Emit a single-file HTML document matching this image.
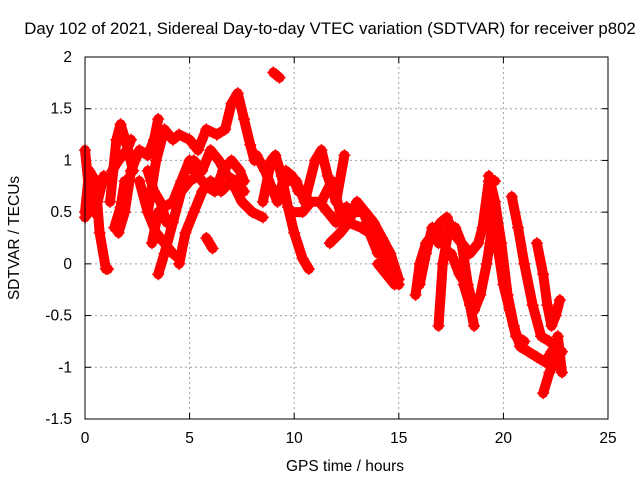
<!DOCTYPE html>
<html><head><meta charset="utf-8"><style>
body{margin:0;background:#fff;}
svg{display:block;font-family:"Liberation Sans",sans-serif;font-size:15.5px;}
</style></head><body>
<svg id="chart" width="640" height="480">
<text x="330" y="34" text-anchor="middle" style="font-size:16.8px">Day 102 of 2021, Sidereal Day-to-day VTEC variation (SDTVAR) for receiver p802</text>
<text x="345" y="471" text-anchor="middle">GPS time / hours</text>
<text transform="translate(19,238) rotate(-90)" text-anchor="middle">SDTVAR / TECUs</text>
<g id="grid"></g><g id="ticks"></g><g id="data"></g>
<rect x="85" y="57" width="523" height="362" fill="none" stroke="#000" stroke-width="1"/>
</svg>
<script>
const xTicks=[0,5,10,15,20,25];
const yTicks=[-1.5,-1,-0.5,0,0.5,1,1.5,2];
const yTickLabels=["-1.5","-1","-0.5","0","0.5","1","1.5","2"];
const tracks=[
[[0,0.5],[0.2,0.9],[0.5,0.8],[0.7,0.3],[1.0,-0.05],[1.1,-0.05]],
[[0,0.45],[0.3,0.55],[0.6,0.6],[0.9,0.85]],
[[0,1.1],[0.2,0.7],[0.4,0.5]],
[[1.2,0.6],[1.5,1.2],[1.7,1.35],[2.0,1.15],[2.3,0.9]],
[[1.3,0.9],[1.6,1.0],[2.0,1.1],[2.2,1.2]],
[[1.6,0.3],[1.9,0.5],[2.2,0.9],[2.6,1.1],[3.0,1.05],[3.3,1.2],[3.5,1.4]],
[[1.4,0.35],[1.7,0.55],[1.9,0.8]],
[[2.6,0.8],[3.0,0.5],[3.4,0.3],[3.8,0.2],[4.2,0.1],[4.5,0.05]],
[[3.0,0.5],[3.4,1.0],[3.8,1.3],[4.2,1.2],[4.5,1.25],[5.0,1.2],[5.4,1.1],[5.8,1.3],[6.3,1.25],[6.7,1.3],[7.0,1.55],[7.3,1.65],[7.6,1.4],[7.9,1.15],[8.1,1.0]],
[[3.0,0.9],[3.3,0.7],[3.6,0.6],[3.9,0.4]],
[[3.5,-0.1],[3.8,0.1],[4.2,0.4],[4.6,0.7],[5.0,0.8],[5.4,0.85],[5.8,0.75],[6.2,0.7],[6.6,0.9],[7.0,1.0],[7.4,0.9],[7.6,0.8]],
[[3.2,0.2],[3.5,0.5],[3.8,0.55],[4.2,0.6],[4.6,0.8],[5.0,1.0],[5.2,0.9]],
[[4.5,0.0],[4.8,0.3],[5.2,0.5],[5.6,0.7],[6.0,0.8],[6.5,0.7],[7.0,0.8],[7.5,0.6],[8.0,0.5],[8.5,0.45]],
[[5.2,1.0],[5.6,0.9],[6.0,1.1],[6.4,1.0],[6.8,0.85],[7.2,0.8],[7.6,0.7]],
[[5.8,0.25],[6.1,0.15]],
[[9.0,1.85],[9.3,1.8]],
[[8.2,1.05],[8.6,0.9],[8.9,0.75],[9.2,0.6],[9.6,0.9],[9.9,0.85],[10.2,0.7]],
[[8.5,0.6],[8.9,1.0],[9.1,1.05],[9.4,0.85],[9.7,0.55],[10.0,0.3],[10.4,0.05],[10.7,-0.05]],
[[9.7,0.8],[10.1,0.8],[10.5,0.6],[11.0,1.0],[11.3,1.1],[11.6,0.85],[12.0,0.6],[12.4,1.05]],
[[9.9,0.5],[10.4,0.5],[10.8,0.6],[11.2,0.6],[11.6,0.5],[12.0,0.4],[12.5,0.55],[12.9,0.5],[13.3,0.5],[13.7,0.3],[14.2,0.1],[14.6,-0.05],[15.0,-0.2]],
[[11.3,0.6],[11.8,0.8],[12.2,0.5],[12.6,0.4],[13.0,0.6],[13.4,0.5],[13.8,0.4],[14.2,0.25],[14.6,0.1],[15.0,-0.15]],
[[11.7,0.2],[12.2,0.3],[12.6,0.4],[13.2,0.35],[13.6,0.3],[14.0,0.1]],
[[14.0,0.0],[14.4,-0.1],[14.8,-0.2]],
[[15.8,-0.3],[16.0,0.0],[16.3,0.2],[16.5,0.25],[16.7,0.3],[17.0,0.4],[17.3,0.45],[17.6,0.3],[18.0,0.2],[18.4,0.1],[18.8,0.2],[19.0,0.35],[19.3,0.8],[19.6,0.8]],
[[16.0,-0.2],[16.3,0.1],[16.6,0.35],[16.9,0.2],[17.2,0.3]],
[[16.9,-0.6],[17.1,0.0],[17.4,0.35],[17.7,0.35],[18.0,0.2],[18.3,-0.2],[18.6,-0.45],[18.9,-0.3],[19.2,0.0],[19.5,0.4]],
[[18.1,-0.2],[18.4,-0.4],[18.6,-0.6]],
[[17.5,0.1],[17.9,-0.1],[18.2,-0.2]],
[[19.3,0.85],[19.6,0.6],[19.9,0.2],[20.2,-0.3],[20.5,-0.6],[20.8,-0.8],[21.2,-0.85],[21.6,-0.9],[22.0,-0.95],[22.3,-0.85]],
[[19.4,0.6],[19.7,0.2],[20.0,-0.2],[20.3,-0.45],[20.6,-0.7],[21.0,-0.75]],
[[20.4,0.65],[20.7,0.35],[21.0,0.0],[21.4,-0.4],[21.8,-0.7],[22.2,-0.75],[22.5,-0.8],[22.8,-0.85]],
[[21.6,0.2],[21.9,-0.1],[22.1,-0.4],[22.3,-0.6],[22.5,-0.5],[22.7,-0.35]],
[[22.6,-0.7],[22.8,-1.05],[22.5,-0.9],[22.2,-1.05],[21.9,-1.25]]
];
const NS="http://www.w3.org/2000/svg";
const X0=85,X1=608,Y0=419,Y1=57;
function xs(t){return X0+(t-0)/(25-0)*(X1-X0);}
function ys(v){return Y0-(v-(-1.5))/(2-(-1.5))*(Y0-Y1);}
function mk(tag,a,p){const e=document.createElementNS(NS,tag);for(const k in a)e.setAttribute(k,a[k]);p.appendChild(e);return e;}
const grid=document.getElementById('grid'),tk=document.getElementById('ticks'),dg=document.getElementById('data');
xTicks.forEach((t,i)=>{
 const x=xs(t);
 if(i>0&&i<xTicks.length-1){const g=mk('line',{x1:x,x2:x,y1:Y1,y2:Y0,stroke:'#a0a0a0','stroke-dasharray':'2,3'},grid);
 
 }
 mk('line',{x1:x,x2:x,y1:Y0,y2:Y0-6,stroke:'#000'},tk);
 mk('line',{x1:x,x2:x,y1:Y1,y2:Y1+6,stroke:'#000'},tk);
 const l=mk('text',{x:x,y:Y0+24,'text-anchor':'middle'},tk);l.textContent=String(t);
 
 
});
yTicks.forEach((v,i)=>{
 const y=ys(v);
 if(i>0&&i<yTicks.length-1){const g=mk('line',{x1:X0,x2:X1,y1:y,y2:y,stroke:'#a0a0a0','stroke-dasharray':'2,3'},grid);
 
 }
 mk('line',{x1:X0,x2:X0+6,y1:y,y2:y,stroke:'#000'},tk);
 mk('line',{x1:X1,x2:X1-6,y1:y,y2:y,stroke:'#000'},tk);
 const l=mk('text',{x:X0-13,y:y+5,'text-anchor':'end'},tk);l.textContent=yTickLabels[i];
 
 
});
tracks.forEach(tr=>{
 const pts=tr.map(p=>xs(p[0])+','+ys(p[1])).join(' ');
 const pl=mk('polyline',{points:pts,fill:'none',stroke:'#f00','stroke-width':10,'stroke-linejoin':'round','stroke-linecap':'round'},dg);
 
 
 tr.forEach(p=>{
  const x=xs(p[0]),y=ys(p[1]);
  const c=mk('path',{d:`M${x-6},${y}h12M${x},${y-6}v12`,stroke:'#f00','stroke-width':1.5},dg);
  
  
 });
});
</script>
</body></html>
